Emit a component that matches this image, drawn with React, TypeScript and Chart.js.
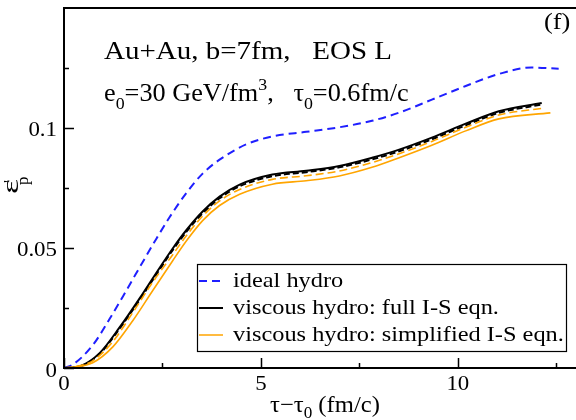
import React, { useEffect, useRef } from "react";
import { Chart, registerables } from "chart.js";

Chart.register(...registerables);

const FONT = '"Liberation Serif", "Times New Roman", Times, serif';

// Axis ranges and ticks
const X_MIN = 0;
const X_MAX = 13;
const Y_MIN = 0;
const Y_MAX = 0.15;
const xMajorTicks = [0, 5, 10];
const xMinorTicks = [2.5, 7.5, 12.5];
const xTickLabels = ["0", "5", "10"];
const yMajorTicks = [0, 0.05, 0.1];
const yMinorTicks = [0.025, 0.075, 0.125];
const yTickLabels = ["0", "0.05", "0.1"];

// Ideal hydro (blue dashed)
const idealX = [0, 0.23, 0.73, 1.16, 1.59, 2.0, 2.35, 2.68, 3.11, 3.52, 3.95, 4.63, 5.29, 6.15, 6.99, 7.82, 8.51, 9.34, 10.2, 11.04, 11.87, 12.56];
const idealY = [0, 0.0015, 0.0095, 0.0205, 0.0325, 0.0442, 0.054, 0.0628, 0.073, 0.081, 0.0868, 0.0932, 0.0965, 0.0984, 0.1003, 0.103, 0.1064, 0.1118, 0.1175, 0.1225, 0.1252, 0.1247];

// Viscous hydro, full I-S (black solid and black dashed)
const fullX = [0, 0.41, 0.91, 1.42, 1.92, 2.43, 2.76, 3.11, 3.52, 3.95, 4.46, 5.29, 6.15, 6.99, 7.82, 8.51, 9.34, 10.2, 11.04, 12.13];
const fullY = [0, 0.0008, 0.0063, 0.0171, 0.029, 0.0418, 0.0498, 0.0575, 0.0652, 0.0714, 0.0764, 0.0806, 0.0822, 0.0842, 0.0876, 0.091, 0.096, 0.1018, 0.107, 0.1104];
const fullDashX = [0, 0.41, 0.91, 1.42, 1.92, 2.43, 2.76, 3.11, 3.52, 3.95, 4.46, 5.29, 6.15, 6.99, 7.82, 8.51, 9.34, 10.2, 11.04, 12.1];
const fullDashY = [0, 0.0007, 0.006, 0.0166, 0.0284, 0.0411, 0.0491, 0.0568, 0.0645, 0.0707, 0.0757, 0.0799, 0.0816, 0.0836, 0.0869, 0.0903, 0.0953, 0.1011, 0.1063, 0.1097];

// Viscous hydro, simplified I-S (orange solid and orange dashed)
const simpX = [0, 0.3, 0.73, 1.24, 1.75, 2.25, 2.76, 3.11, 3.52, 3.95, 4.46, 5.29, 6.15, 6.99, 7.82, 8.51, 9.34, 10.2, 11.04, 12.35];
const simpY = [0, 0.0005, 0.0022, 0.0088, 0.0198, 0.0322, 0.0447, 0.053, 0.0614, 0.0677, 0.0724, 0.0766, 0.078, 0.08, 0.0836, 0.0876, 0.0928, 0.0988, 0.1038, 0.1063];
const simpDashX = [0, 0.3, 0.73, 1.24, 1.75, 2.25, 2.76, 3.11, 3.52, 3.95, 4.46, 5.29, 6.15, 6.99, 7.82, 8.51, 9.34, 10.2, 11.04, 12.18];
const simpDashY = [0, 0.0006, 0.003, 0.011, 0.0232, 0.0357, 0.0472, 0.0552, 0.0633, 0.0696, 0.0744, 0.0786, 0.0801, 0.0821, 0.0856, 0.0893, 0.0944, 0.1003, 0.1054, 0.1083];

const legendLabels = [
  "ideal hydro",
  "viscous hydro: full I-S eqn.",
  "viscous hydro: simplified I-S eqn.",
];

const BLUE = "#1f1fff";
const BLACK = "#000000";
const ORANGE = "#ffa500";

const pts = (xs: number[], ys: number[]) => xs.map((x, i) => ({ x, y: ys[i] }));

type Seg = [string, number, number]; // text, font size, baseline shift

function drawRich(
  ctx: CanvasRenderingContext2D,
  x: number,
  y: number,
  segs: Seg[],
  sx = 1,
  align: "left" | "center" | "right" = "left"
) {
  ctx.save();
  ctx.textAlign = "left";
  ctx.textBaseline = "alphabetic";
  let total = 0;
  for (const [t, size] of segs) {
    ctx.font = `${size}px ${FONT}`;
    total += ctx.measureText(t).width;
  }
  ctx.translate(x, y);
  ctx.scale(sx, 1);
  let cx = align === "left" ? 0 : align === "center" ? -total / 2 : -total;
  for (const [t, size, dy] of segs) {
    ctx.font = `${size}px ${FONT}`;
    ctx.fillText(t, cx, dy);
    cx += ctx.measureText(t).width;
  }
  ctx.restore();
}

const decorPlugin = {
  id: "decor",
  afterDraw(chart: any) {
    const { ctx, chartArea, scales } = chart;
    const { left, right, top, bottom } = chartArea;
    const xs = scales.x;
    const ys = scales.y;
    ctx.save();
    ctx.strokeStyle = "#000";
    ctx.fillStyle = "#000";
    ctx.lineWidth = 2;
    ctx.setLineDash([]);
    // frame: left, top, bottom
    ctx.beginPath();
    ctx.moveTo(left, top);
    ctx.lineTo(right + 2, top);
    ctx.moveTo(left, top - 1);
    ctx.lineTo(left, bottom + 1);
    ctx.moveTo(left - 1, bottom);
    ctx.lineTo(right + 2, bottom);
    ctx.stroke();
    // ticks (inward)
    ctx.lineWidth = 1.5;
    ctx.beginPath();
    for (const v of xMajorTicks) {
      const px = Math.round(xs.getPixelForValue(v)) + 0.5;
      ctx.moveTo(px, bottom);
      ctx.lineTo(px, bottom - 10);
    }
    for (const v of xMinorTicks) {
      const px = Math.round(xs.getPixelForValue(v)) + 0.5;
      ctx.moveTo(px, bottom);
      ctx.lineTo(px, bottom - 5);
    }
    for (const v of yMajorTicks) {
      const py = Math.round(ys.getPixelForValue(v)) + 0.5;
      ctx.moveTo(left, py);
      ctx.lineTo(left + 10, py);
    }
    for (const v of yMinorTicks) {
      const py = Math.round(ys.getPixelForValue(v)) + 0.5;
      ctx.moveTo(left, py);
      ctx.lineTo(left + 5, py);
    }
    ctx.stroke();

    // tick labels
    ctx.fillStyle = "#000";
    xMajorTicks.forEach((v, i) => {
      drawRich(ctx, xs.getPixelForValue(v), bottom + 22, [[xTickLabels[i], 22, 0]], 1.04, "center");
    });
    yMajorTicks.forEach((v, i) => {
      const py = ys.getPixelForValue(v);
      const base = i === 0 ? py + 9 : py + 7.5;
      drawRich(ctx, left - 7, base, [[yTickLabels[i], 22, 0]], 1.04, "right");
    });

    // annotations
    drawRich(ctx, 544, 29, [["(f)", 24, 0]], 1.1);
    drawRich(ctx, 104, 59, [["Au+Au, b=7fm,   EOS L", 25, 0]], 1.16);
    drawRich(
      ctx,
      104,
      101,
      [
        ["e", 25, 0],
        ["0", 17, 8],
        ["=30 GeV/fm", 25, 0],
        ["3", 17, -11],
        [",   τ", 25, 0],
        ["0", 17, 8],
        ["=0.6fm/c", 25, 0],
      ],
      1.05
    );

    // x-axis title
    drawRich(
      ctx,
      270,
      412,
      [
        ["τ−τ", 23, 0],
        ["0", 16, 6],
        [" (fm/c)", 23, 0],
      ],
      1.07
    );

    // y-axis title (rotated)
    ctx.save();
    ctx.translate(18, 194);
    ctx.rotate(-Math.PI / 2);
    ctx.textAlign = "left";
    ctx.textBaseline = "alphabetic";
    ctx.save();
    ctx.scale(1.5, 1);
    ctx.font = `24px ${FONT}`;
    ctx.fillText("ε", 0, 0);
    const w = ctx.measureText("ε").width * 1.5;
    ctx.restore();
    ctx.font = `17px ${FONT}`;
    ctx.fillText("'", w - 4, -3);
    ctx.fillText("p", w - 6, 10);
    ctx.restore();

    // legend
    const bx = 197, by = 264, bw = 369, bh = 87;
    ctx.fillStyle = "#fff";
    ctx.fillRect(bx, by, bw, bh);
    ctx.strokeStyle = "#000";
    ctx.lineWidth = 1.2;
    ctx.setLineDash([]);
    ctx.strokeRect(bx + 0.5, by + 0.5, bw, bh);
    const colors = [BLUE, BLACK, ORANGE];
    const dashes = [[8, 5], [], []];
    const rowsY = [281, 308, 335];
    for (let i = 0; i < legendLabels.length; i++) {
      ctx.strokeStyle = colors[i];
      ctx.lineWidth = i === 2 ? 1.5 : 2;
      ctx.setLineDash(dashes[i]);
      ctx.beginPath();
      ctx.moveTo(199, rowsY[i]);
      ctx.lineTo(223, rowsY[i]);
      ctx.stroke();
      ctx.setLineDash([]);
      ctx.fillStyle = "#000";
      drawRich(ctx, 233, rowsY[i] + 6, [[legendLabels[i], 21, 0]], 1.16);
    }
    ctx.restore();
  },
};

export default function App() {
  const ref = useRef<HTMLCanvasElement | null>(null);
  useEffect(() => {
    document.body.style.margin = "0";
    document.body.style.overflow = "hidden";
    const canvas = ref.current!;
    const common = { pointRadius: 0, cubicInterpolationMode: "monotone" };
    const chart = new Chart(canvas, {
      type: "line",
      data: {
        datasets: [
          {
            label: "simplified I-S",
            data: pts(simpX, simpY),
            borderColor: ORANGE,
            borderWidth: 1.6,
            ...common,
          },
          {
            label: "simplified I-S (dashed)",
            data: pts(simpDashX, simpDashY),
            borderColor: ORANGE,
            borderWidth: 1.6,
            borderDash: [8, 4],
            ...common,
          },
          {
            label: "full I-S",
            data: pts(fullX, fullY),
            borderColor: BLACK,
            borderWidth: 2,
            ...common,
          },
          {
            label: "full I-S (dashed)",
            data: pts(fullDashX, fullDashY),
            borderColor: BLACK,
            borderWidth: 2,
            borderDash: [6, 3],
            ...common,
          },
          {
            label: "ideal hydro",
            data: pts(idealX, idealY),
            borderColor: BLUE,
            borderWidth: 2,
            borderDash: [8, 5],
            ...common,
          },
        ],
      },
      options: {
        animation: false,
        responsive: false,
        maintainAspectRatio: false,
        layout: { padding: { top: 8, right: 0, left: 0, bottom: 0 } },
        plugins: {
          legend: { display: false },
          tooltip: { enabled: false },
        },
        scales: {
          x: {
            type: "linear",
            min: X_MIN,
            max: X_MAX,
            grid: { display: false, drawTicks: false },
            border: { display: false },
            ticks: { display: false },
            afterFit: (s: any) => {
              s.height = 52;
            },
          },
          y: {
            type: "linear",
            min: Y_MIN,
            max: Y_MAX,
            grid: { display: false, drawTicks: false },
            border: { display: false },
            ticks: { display: false },
            afterFit: (s: any) => {
              s.width = 64;
            },
          },
        },
      },
      plugins: [decorPlugin],
    } as any);
    return () => chart.destroy();
  }, []);
  return (
    <div style={{ position: "fixed", left: 0, top: 0, width: 576, height: 420, background: "#fff" }}>
      <canvas ref={ref} width={576} height={420} style={{ width: 576, height: 420, display: "block" }} />
    </div>
  );
}
